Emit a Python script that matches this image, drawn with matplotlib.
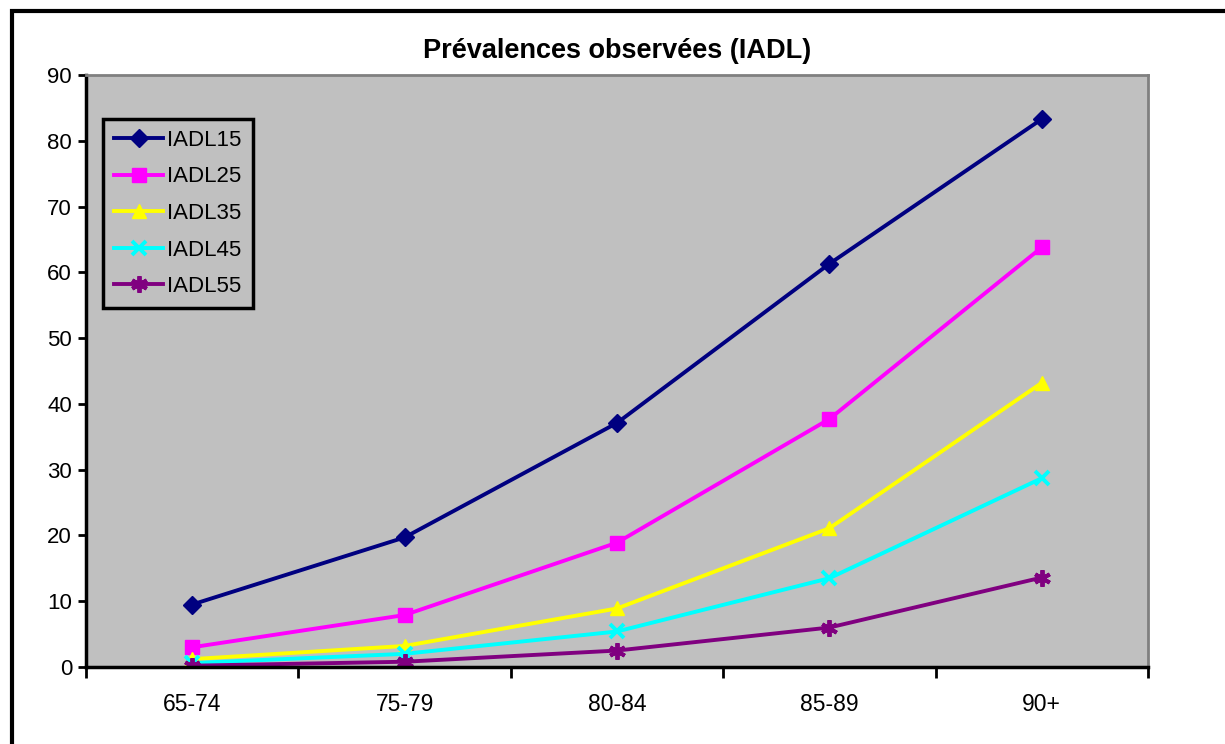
import matplotlib.pyplot as plt
import matplotlib.patches as mpatches
import numpy as np

plt.rcParams['font.family'] = ['Liberation Sans', 'DejaVu Sans']

# age groups and observed prevalences (%)
age_groups = ["65-74", "75-79", "80-84", "85-89", "90+"]
iadl15 = [9.5, 19.7, 37.1, 61.3, 83.3]
iadl25 = [3.0, 7.9, 18.9, 37.7, 63.8]
iadl35 = [1.2, 3.2, 8.9, 21.1, 43.2]
iadl45 = [0.6, 2.0, 5.4, 13.5, 28.7]
iadl55 = [0.2, 0.8, 2.5, 6.0, 13.6]

series = [
    ("IADL15", iadl15, "#000080", "D", 9.5),
    ("IADL25", iadl25, "#FF00FF", "s", 9.5),
    ("IADL35", iadl35, "#FFFF00", "^", 10.5),
    ("IADL45", iadl45, "#00FFFF", "x", 10),
    ("IADL55", iadl55, "#800080", (6, 2, 0), 12),
]

fig = plt.figure(figsize=(12.25, 7.44), dpi=100)
# outer chart frame (right and bottom edges fall off the picture)
fig.patches.append(mpatches.Rectangle((12 / 1225, -0.1), 1.2, 1 - 11 / 744 + 0.1,
                                      transform=fig.transFigure, fill=False,
                                      edgecolor="black", linewidth=3))

ax = fig.add_axes([86 / 1225, 1 - 667 / 744, (1148 - 86) / 1225, (667 - 75) / 744])
ax.set_facecolor("#C0C0C0")

x = np.arange(len(age_groups))
for name, vals, color, marker, ms in series:
    ax.plot(x, vals, color=color, linewidth=2.8, marker=marker, markersize=ms,
            markeredgewidth=2.8 if marker in ("x", (6, 2, 0)) else 1,
            markeredgecolor=color, label=name)

ax.set_xlim(-0.5, len(age_groups) - 0.5)
ax.set_ylim(0, 90)
ax.set_yticks(range(0, 91, 10))
ax.set_xticks(np.arange(-0.5, len(age_groups), 1.0))
ax.set_xticklabels([])
ax.set_xticks(x, minor=True)
ax.set_xticklabels(age_groups, minor=True)
ax.tick_params(axis="x", which="major", length=8, width=2, direction="out")
ax.tick_params(axis="x", which="minor", length=0, pad=19, labelsize=16.5)
ax.tick_params(axis="y", length=6, width=2, direction="out", labelsize=16, pad=4)

for side in ("left", "bottom"):
    ax.spines[side].set_linewidth(2.5)
    ax.spines[side].set_color("black")
for side in ("top", "right"):
    ax.spines[side].set_linewidth(2)
    ax.spines[side].set_color("#808080")

ax.set_title("Prévalences observées (IADL)", fontsize=19.5, fontweight="bold", pad=12)

leg = ax.legend(loc="upper left", bbox_to_anchor=(0.016, 0.926), fontsize=16,
                frameon=True, fancybox=False, framealpha=1, borderpad=0.5,
                labelspacing=0.7, handlelength=2.2, handletextpad=0.2,
                borderaxespad=0)
leg.get_frame().set_facecolor("#C0C0C0")
leg.get_frame().set_edgecolor("black")
leg.get_frame().set_linewidth(2.5)

fig.savefig("out.png", dpi=100)
